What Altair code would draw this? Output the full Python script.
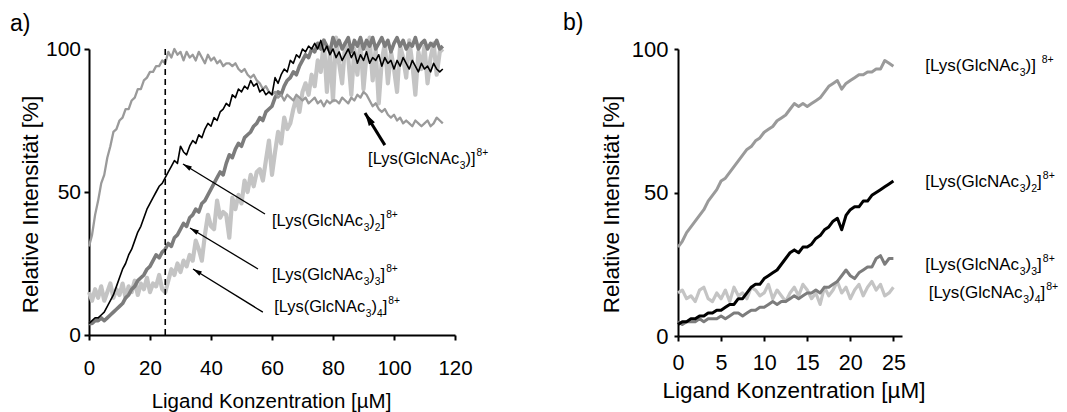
import math
import altair as alt
import pandas as pd

FONT = "Liberation Sans"

# ---------------- panel a: titration up to ~116 µM ----------------
A_X = list(range(0, 117))
A_LYS1 = [31, 35, 42, 47, 53, 56, 62, 66, 71, 72, 75, 76, 79, 79, 82, 83, 86, 86, 89, 90, 92, 92, 94, 94, 96, 95,
          99, 97, 100, 98, 99, 96, 99, 97, 98, 96, 99, 97, 95, 98, 96, 97, 95, 96, 94, 95,
          95, 94, 95, 93, 92, 93, 91, 90, 91, 89, 88, 86, 87, 85, 84,
          85, 83, 84, 82, 84, 83, 82, 84, 83, 82, 83, 81, 82, 83, 81, 82, 80, 82, 81, 82,
          82, 81, 83, 82, 81, 83, 82, 84, 83, 85, 84, 82,
          80, 81, 79, 78, 79, 77, 76, 77, 75, 76, 74, 75, 74, 73, 75, 74, 73, 74, 75, 73, 74, 76, 75, 74]
A_LYS2 = [4, 5, 6, 6, 7, 8, 10, 12, 14, 17, 20,
          23, 25, 28, 30, 33, 36, 38, 41, 44, 46, 48, 50, 52, 53, 55,
          57, 59, 61, 60, 66, 64, 63, 66, 68, 67, 70, 69, 72, 74, 73,
          76, 75, 78, 79, 81, 80, 84, 83, 86, 85, 87, 86, 89, 87, 88,
          85, 86, 84, 85, 84, 90, 88, 91, 93, 92, 96, 95, 98, 97, 100,
          99, 101, 100, 102, 100, 103, 99, 101, 98, 100, 97, 99, 96, 98, 100, 97, 99, 95, 98, 96,
          99, 95, 97, 96, 98, 94, 97, 95, 96, 93, 96, 94, 97, 95, 93, 96, 94, 92, 95, 93, 94, 92, 95, 93, 92, 93]
A_LYS3 = [4, 4, 5, 5, 6, 5, 6, 7, 8, 9, 10,
          11, 13, 14, 16, 17, 19, 20, 21, 23, 24, 26, 28, 27, 29, 30,
          32, 31, 34, 35, 37, 39, 38, 41, 42, 44, 43, 46, 47, 49, 51,
          53, 55, 57, 56, 60, 63, 62, 65, 67, 66, 69, 70, 71, 73, 74,
          76, 75, 78, 79, 80, 83, 85, 84, 87, 89, 90, 92, 91, 94, 96,
          98, 97, 100, 99, 102, 100, 103, 101, 99, 104, 101, 103, 100, 102, 104, 99, 103, 101, 104, 100,
          103, 101, 104, 100, 102, 104, 101, 103, 99, 102, 104, 101, 103, 100, 102, 101, 104, 100, 102, 103,
          100, 102, 101, 103, 100, 101]
A_LYS4 = [15, 12, 16, 13, 17, 12, 15, 18, 13, 16, 14, 18, 13, 17, 15, 19, 14, 18, 16, 20, 15, 18, 17, 21, 16, 15,
          19, 23, 21, 25, 22, 26, 24, 28, 26, 33, 30, 26, 35, 42, 38,
          37, 47, 41, 43, 42, 34, 48, 44, 49, 46, 54, 50, 56, 52, 57,
          58, 54, 61, 68, 56, 64, 71, 67, 76, 72, 74, 79, 83, 78, 85,
          88, 84, 91, 87, 96, 92, 103, 85, 99, 82, 104, 95, 88, 102, 97, 84, 100, 91, 103, 86,
          98, 104, 89, 100, 81, 96, 102, 88, 99, 93, 85, 101, 97, 90, 103, 95, 84, 99, 93, 101, 88, 97,
          102, 91, 99, 100]

# ---------------- panel b: first 25 µM ----------------
B_X = [i * 0.5 for i in range(51)]
B_LYS1 = [31, 33, 36, 38, 40, 42, 44, 47, 49, 51, 54, 55, 57, 59, 61, 63, 65, 66, 68, 69, 71, 72, 73, 75, 76,
          77, 79, 81, 80, 81, 80, 81, 82, 83, 85, 87, 88, 89, 86, 88, 89, 90, 91, 91, 92, 92, 93, 93, 96, 95, 94]
B_LYS2 = [4, 5, 5, 6, 6, 7, 7, 8, 8, 9, 9, 10, 11, 11, 13, 13, 15, 17, 18, 18, 20, 21, 22, 23, 25,
          27, 29, 30, 29, 31, 31, 32, 34, 35, 37, 38, 40, 41, 37, 42, 44, 45, 45, 47, 47, 49, 50, 51, 52, 53, 54]
B_LYS3 = [5, 4, 5, 5, 5, 6, 5, 6, 6, 6, 7, 6, 7, 8, 8, 7, 8, 9, 9, 10, 10, 11, 12, 11, 12,
          12, 13, 14, 13, 14, 15, 15, 16, 15, 17, 17, 18, 19, 21, 23, 21, 20, 22, 23, 24, 24, 27, 28, 25, 27, 27]
B_LYS4 = [15, 16, 13, 14, 12, 16, 17, 13, 12, 15, 13, 16, 12, 17, 14, 15, 13, 17, 16, 14, 15, 18, 13, 16, 14,
          12, 15, 17, 14, 18, 16, 13, 15, 11, 17, 14, 16, 19, 15, 17, 13, 16, 18, 14, 17, 19, 16, 18, 14, 15, 17]

# line styles: (colour, width) per complex
STYLE = {
    "mono": ("#9a9a9a", 2.3),
    "di": ("#000000", 1.6),
    "tri": ("#7c7c7c", 3.6),
    "tetra": ("#c4c4c4", 4.2),
}
STYLE_B = {
    "mono": ("#9a9a9a", 3.0),
    "di": ("#000000", 3.0),
    "tri": ("#7c7c7c", 3.0),
    "tetra": ("#c4c4c4", 3.2),
}

X_TITLE = "Ligand Konzentration [µM]"
Y_TITLE = "Relative Intensität [%]"

# label pieces: normal text, subscript and superscript runs
LABELS = {
    "mono": [("[Lys(GlcNAc", "n"), ("3", "sub"), (")]", "n"), ("8+", "sup")],
    "mono_b": [("[Lys(GlcNAc", "n"), ("3", "sub"), (")] ", "n"), ("8+", "sup")],
    "di": [("[Lys(GlcNAc", "n"), ("3", "sub"), (")", "n"), ("2", "sub"), ("]", "n"), ("8+", "sup")],
    "tri": [("[Lys(GlcNAc", "n"), ("3", "sub"), (")", "n"), ("3", "sub"), ("]", "n"), ("8+", "sup")],
    "tetra": [("[Lys(GlcNAc", "n"), ("3", "sub"), (")", "n"), ("4", "sub"), ("]", "n"), ("8+", "sup")],
}

# Arial / Liberation Sans advance widths (1/1000 em)
ADV = {"[": 278, "]": 278, "(": 333, ")": 333, "L": 556, "y": 500, "s": 500, "G": 778, "l": 222,
       "c": 500, "N": 722, "A": 667, "+": 584, " ": 278}


def run_width(text, size):
    return sum(ADV.get(ch, 556) for ch in text) * size / 1000.0


def encodings(xdom, xticks, ax_x, ax_y):
    x = alt.X("x:Q", scale=alt.Scale(domain=xdom, nice=False, zero=False),
              axis=alt.Axis(values=xticks, **ax_x), title=X_TITLE)
    y = alt.Y("y:Q", scale=alt.Scale(domain=[0, 100], nice=False, zero=False),
              axis=alt.Axis(values=[0, 50, 100], **ax_y), title=Y_TITLE)
    return x, y


def label_layers(x, y, key, size, X, Y):
    layers = []
    off = 0.0
    df = pd.DataFrame({"x": [x], "y": [y]})
    for text, kind in LABELS[key]:
        if kind == "n":
            fs, dy, extra = size, 0.0, 0.0
        elif kind == "sub":
            fs, dy, extra = size * 0.62, size * 0.30, 0.0
        else:
            fs, dy, extra = size * 0.62, -size * 0.47, 1.0
        layers.append(
            alt.Chart(df).mark_text(text=text, font=FONT, fontSize=fs, align="left",
                                    baseline="alphabetic", dx=off + extra, dy=dy, color="black")
            .encode(x=X, y=Y)
        )
        off += run_width(text, fs) + extra
    return layers


HEAD = "M0,0L-0.55,2L0.55,2Z"


def arrow_layers(tip, tail, kx, ky, width, head, X, Y):
    dxp = (tip[0] - tail[0]) * kx
    dyp = -(tip[1] - tail[1]) * ky
    ang = math.degrees(math.atan2(dxp, -dyp)) % 360
    shaft = pd.DataFrame({"x": [tail[0]], "y": [tail[1]], "x2": [tip[0]], "y2": [tip[1]]})
    point = pd.DataFrame({"x": [tip[0]], "y": [tip[1]]})
    rule = alt.Chart(shaft).mark_rule(color="black", strokeWidth=width).encode(
        x=X, y=Y, x2=alt.X2("x2:Q"), y2=alt.Y2("y2:Q"))
    tipmark = alt.Chart(point).mark_point(shape=HEAD, filled=True, color="black", opacity=1,
                                          strokeWidth=0, size=head * head, angle=ang).encode(x=X, y=Y)
    return [rule, tipmark]


def line(xs, ys, style, X, Y):
    color, width = style
    df = pd.DataFrame({"x": xs, "y": ys})
    return alt.Chart(df).mark_line(color=color, strokeWidth=width, strokeJoin="round",
                                   clip=False).encode(x=X, y=Y)


def panel_tag(text, x, y):
    return alt.Chart(pd.DataFrame({"t": [0]})).mark_text(
        text=text, font=FONT, fontSize=23, align="left", baseline="alphabetic", color="black"
    ).encode(x=alt.value(x), y=alt.value(y))


common_axis = dict(grid=False, domainColor="black", domainWidth=2, tickColor="black", tickWidth=2,
                   labelColor="black", titleColor="black", labelFont=FONT, titleFont=FONT,
                   titleFontWeight="normal", labelFlush=False, labelOverlap=False)

# ---- panel a ----
WA, HA = 366, 286
XA, YA = encodings(
    [0, 120], [0, 20, 40, 60, 80, 100, 120],
    dict(common_axis, labelFontSize=20.5, tickSize=5, labelPadding=34, labelBaseline="alphabetic",
         titleFontSize=20.5, titleX=182, titleY=72, titleBaseline="alphabetic"),
    dict(common_axis, labelFontSize=21, tickSize=5, labelPadding=3.5,
         titleFontSize=22.5, titleX=-59, titleY=155, titleAngle=270, titleBaseline="middle"),
)
kxa, kya = WA / 120.0, HA / 100.0

dash = alt.Chart(pd.DataFrame({"x": [25], "y": [0], "y2": [100]})).mark_rule(
    color="black", strokeWidth=1.6, strokeDash=[6, 4]).encode(x=XA, y=YA, y2=alt.Y2("y2:Q"))

layers_a = [
    line(A_X, A_LYS4, STYLE["tetra"], XA, YA),
    line(A_X, A_LYS3, STYLE["tri"], XA, YA),
    line(A_X, A_LYS1, STYLE["mono"], XA, YA),
    line(A_X, A_LYS2, STYLE["di"], XA, YA),
    dash,
]
layers_a += arrow_layers((30.8, 59.8), (57.7, 42.3), kxa, kya, 1.3, 9, XA, YA)
layers_a += arrow_layers((33.1, 37.4), (55.4, 23.1), kxa, kya, 1.3, 9, XA, YA)
layers_a += arrow_layers((34.1, 23.1), (57.0, 8.0), kxa, kya, 1.3, 9, XA, YA)
layers_a += arrow_layers((90.5, 77.6), (97.0, 66.4), kxa, kya, 3.0, 13, XA, YA)
layers_a += label_layers(60.0, 38.1, "di", 16.5, XA, YA)
layers_a += label_layers(60.0, 19.2, "tri", 16.5, XA, YA)
layers_a += label_layers(60.7, 8.0, "tetra", 16.5, XA, YA)
layers_a += label_layers(91.5, 59.8, "mono", 16.5, XA, YA)
layers_a.append(panel_tag("a)", -79, -18))

panel_a = alt.layer(*layers_a).properties(width=WA, height=HA)

# ---- panel b ----
WB, HB = 224, 287
XB, YB = encodings(
    [0, 26], [0, 5, 10, 15, 20, 25],
    dict(common_axis, labelFontSize=21.5, tickSize=5, labelPadding=28.5, labelBaseline="alphabetic",
         titleFontSize=22.5, titleX=115.5, titleY=61, titleBaseline="alphabetic"),
    dict(common_axis, labelFontSize=22, tickSize=4, labelPadding=6,
         titleFontSize=22.5, titleX=-67, titleY=155, titleAngle=270, titleBaseline="middle"),
)

layers_b = [
    line(B_X, B_LYS4, STYLE_B["tetra"], XB, YB),
    line(B_X, B_LYS3, STYLE_B["tri"], XB, YB),
    line(B_X, B_LYS1, STYLE_B["mono"], XB, YB),
    line(B_X, B_LYS2, STYLE_B["di"], XB, YB),
]
layers_b += label_layers(28.7, 92.3, "mono_b", 17, XB, YB)
layers_b += label_layers(28.7, 51.9, "di", 17, XB, YB)
layers_b += label_layers(28.7, 23.0, "tri", 17, XB, YB)
layers_b += label_layers(29.1, 13.2, "tetra", 17, XB, YB)
layers_b.append(panel_tag("b)", -115, -19))

panel_b = alt.layer(*layers_b).properties(width=WB, height=HB)

chart = (
    alt.hconcat(panel_a, panel_b, spacing=223, bounds="flush")
    .properties(padding={"left": 10, "top": 12, "right": 5, "bottom": 0}, background="white")
    .configure_view(strokeWidth=0)
)

chart.save("out.html", embed_options={"renderer": "svg", "actions": False})
